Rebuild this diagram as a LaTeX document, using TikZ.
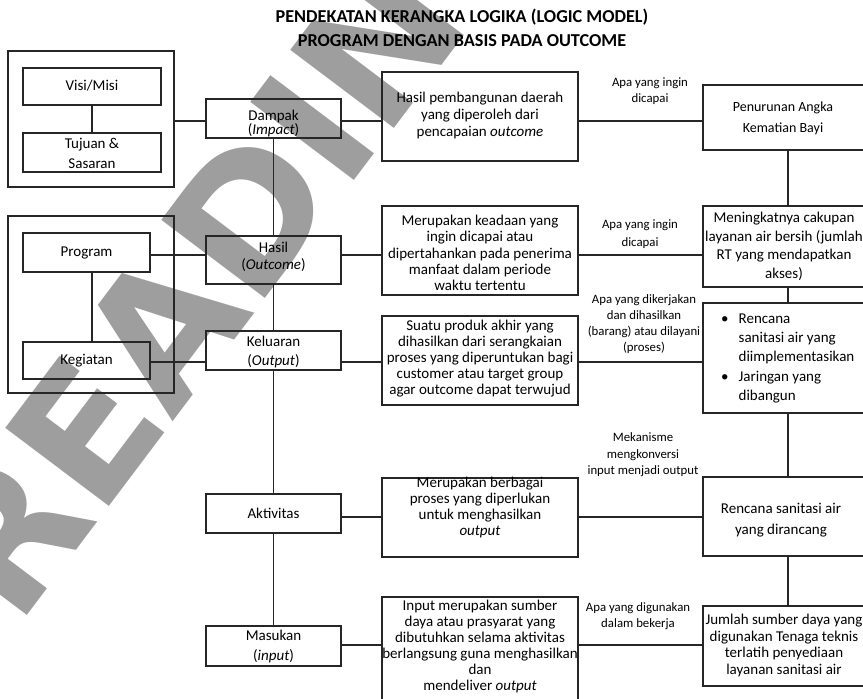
\documentclass[tikz,border=0pt]{standalone}
\usepackage{fontspec}
\setmainfont{Carlito}
\newfontfamily\wmfont{DejaVu Sans}
\begin{document}
\begin{tikzpicture}[x=1pt,y=-1pt,
  frame/.style={draw=black!85, line width=1.1pt, inner sep=0pt},
  link/.style={draw=black!85, line width=1.1pt},
  txt/.style={align=center, inner sep=0pt, font=\fontsize{15}{#1}\selectfont},
  txt/.default=17,
  note/.style={align=center, inner sep=0pt, font=\fontsize{12.8}{#1}\selectfont},
  note/.default=16]
\useasboundingbox (0,0) rectangle (863,699);
\clip (0,0) rectangle (863,699);

% watermark
\node[rotate=53, text=black!38, inner sep=0pt,
      font=\wmfont\bfseries\fontsize{178}{178}\selectfont] (wm) at (238,228) {READING};

% title
\node[align=center, inner sep=0pt, font=\bfseries\fontsize{18.2}{24}\selectfont] (title)
  at (462,28) {PENDEKATAN KERANGKA LOGIKA (LOGIC MODEL)\\PROGRAM DENGAN BASIS PADA OUTCOME};

% row levels of the horizontal connectors
\coordinate (row1) at (0,121);
\coordinate (row2) at (0,255);
\coordinate (row3) at (0,362);
\coordinate (row4) at (0,517);
\coordinate (row5) at (0,645);

% left groups
\node[frame, minimum width=166pt, minimum height=136pt] (outer1) at (91,119) {};
\node[frame, minimum width=138pt, minimum height=37pt] (visi) at (92,86.5) {};
\node[txt] (visiT) at (92,86) {Visi/Misi};
\node[frame, minimum width=138pt, minimum height=39pt] (tujuan) at (92,152.5) {};
\node[txt=20] (tujuanT) at (92,153) {Tujuan \&\\Sasaran};

\node[frame, minimum width=166pt, minimum height=177pt] (outer2) at (91,304.5) {};
\node[frame, minimum width=127pt, minimum height=39pt] (program) at (86.5,252.5) {};
\node[txt] (programT) at (86.5,253) {Program};
\node[frame, minimum width=127pt, minimum height=37pt] (kegiatan) at (86.5,360.5) {};
\node[txt] (kegiatanT) at (86.5,361) {Kegiatan};

% level column
\node[frame, minimum width=135pt, minimum height=39pt] (dampak) at (273.5,118.5) {};
\node[txt=14.5] (dampakT) at (273.5,123.5) {Dampak\\(\textit{Impact})};
\node[frame, minimum width=135pt, minimum height=48pt] (hasil) at (273.5,260) {};
\node[txt=17] (hasilT) at (273.5,257) {Hasil\\(\textit{Outcome})};
\node[frame, minimum width=135pt, minimum height=39pt] (keluaran) at (273.5,350.5) {};
\node[txt=19] (keluaranT) at (273.5,352) {Keluaran\\(\textit{Output})};
\node[frame, minimum width=135pt, minimum height=39pt] (aktivitas) at (273.5,513.5) {};
\node[txt] (aktivitasT) at (273.5,513) {Aktivitas};
\node[frame, minimum width=135pt, minimum height=40pt] (masukan) at (273.5,646) {};
\node[txt=20] (masukanT) at (273.5,646) {Masukan\\(\textit{input})};

% definitions column
\node[frame, minimum width=196pt, minimum height=89pt] (d1) at (480,116.5) {};
\node[txt=17] (d1T) at (480,115.5) {Hasil pembangunan daerah\\yang diperoleh dari\\pencapaian \textit{outcome}};
\node[frame, minimum width=196pt, minimum height=89pt] (d2) at (480,250.5) {};
\node[txt=16.3] (d2T) at (480,253) {Merupakan keadaan yang\\ingin dicapai atau\\dipertahankan pada penerima\\manfaat dalam periode\\waktu tertentu};
\node[frame, minimum width=196pt, minimum height=89pt] (d3) at (480,360.5) {};
\node[txt=16.2] (d3T) at (480,358.5) {Suatu produk akhir yang\\dihasilkan dari serangkaian\\proses yang diperuntukan bagi\\customer atau target group\\agar outcome dapat terwujud};
\node[frame, minimum width=196pt, minimum height=79pt] (d4) at (480,517.5) {};
\node[txt=15.7] (d4T) at (480,507.5) {Merupakan berbagai\\proses yang diperlukan\\untuk menghasilkan\\\textit{output}};
\node[frame, minimum width=196pt, minimum height=123pt] (d5) at (480,658.5) {};
\node[txt=16] (d5T) at (480,646.5) {Input merupakan sumber\\daya atau prasyarat yang\\dibutuhkan selama aktivitas\\berlangsung guna menghasilkan\\dan\\mendeliver \textit{output}};

% example column
\node[frame, minimum width=170pt, minimum height=65pt] (e1) at (788,117.5) {};
\node[align=center, inner sep=0pt, font=\fontsize{14}{21}\selectfont] (e1T) at (783,118) {Penurunan Angka\\Kematian Bayi};
\node[frame, minimum width=170pt, minimum height=81pt] (e2) at (788,246.5) {};
\node[txt=18.5] (e2T) at (784,246.5) {Meningkatnya cakupan\\layanan air bersih (jumlah\\RT yang mendapatkan\\akses)};
\node[frame, minimum width=170pt, minimum height=110pt] (e3) at (788,358) {};
\node[anchor=west, inner sep=0pt, font=\fontsize{15}{19.2}\selectfont] (e3T) at (721,358)
  {\begin{tabular}{@{}l@{\hspace{10pt}}l@{}}\textbullet & Rencana\\ & sanitasi air yang\\ & diimplementasikan\\ \textbullet & Jaringan yang\\ & dibangun\end{tabular}};
\node[frame, minimum width=170pt, minimum height=79pt] (e4) at (788,516.5) {};
\node[txt=21] (e4T) at (781,520) {Rencana sanitasi air\\yang dirancang};
\node[frame, minimum width=170pt, minimum height=80pt] (e5) at (788,646) {};
\node[txt=16.7] (e5T) at (784,645.5) {Jumlah sumber daya yang\\digunakan Tenaga teknis\\terlatih penyediaan\\layanan sanitasi air};

% connector labels
\node[note] (lab1) at (650,91) {Apa yang ingin\\dicapai};
\node[note=18] (lab2) at (640,234) {Apa yang ingin\\dicapai};
\node[note=16] (lab3) at (644,324) {Apa yang dikerjakan\\dan dihasilkan\\(barang) atau dilayani\\(proses)};
\node[note=16.5] (lab4) at (643,455) {Mekanisme\\mengkonversi\\input menjadi output};
\node[note] (lab5) at (638,616) {Apa yang digunakan\\dalam bekerja};

% connectors: left groups
\draw[link] (visi.south) -- (tujuan.north);
\draw[link] (program.south -| visi.south) -- (kegiatan.north -| visi.south);
\draw[link] (outer1.east |- row1) -- (dampak.west |- row1);
\draw[link] (program.east |- row2) -- (hasil.west |- row2);
\draw[link] (kegiatan.east |- row3) -- (keluaran.west |- row3);

% connectors: level trunk
\draw[link] (dampak.south) -- (hasil.north);
\draw[link] (hasil.south) -- (keluaran.north);
\draw[link] (keluaran.south) -- (aktivitas.north);
\draw[link] (aktivitas.south) -- (masukan.north);

% connectors: levels to definitions to examples
\draw[link] (dampak.east |- row1) -- (d1.west |- row1);
\draw[link] (d1.east |- row1) -- (e1.west |- row1);
\draw[link] (hasil.east |- row2) -- (d2.west |- row2);
\draw[link] (d2.east |- row2) -- (e2.west |- row2);
\draw[link] (keluaran.east |- row3) -- (d3.west |- row3);
\draw[link] (d3.east |- row3) -- (e3.west |- row3);
\draw[link] (aktivitas.east |- row4) -- (d4.west |- row4);
\draw[link] (d4.east |- row4) -- (e4.west |- row4);
\draw[link] (masukan.east |- row5) -- (d5.west |- row5);
\draw[link] (d5.east |- row5) -- (e5.west |- row5);

% connectors: example chain
\draw[link] (e1.south) -- (e2.north);
\draw[link] (e2.south) -- (e3.north);
\draw[link] (e3.south) -- (e4.north);
\draw[link] (e4.south) -- (e5.north);
\end{tikzpicture}
\end{document}
